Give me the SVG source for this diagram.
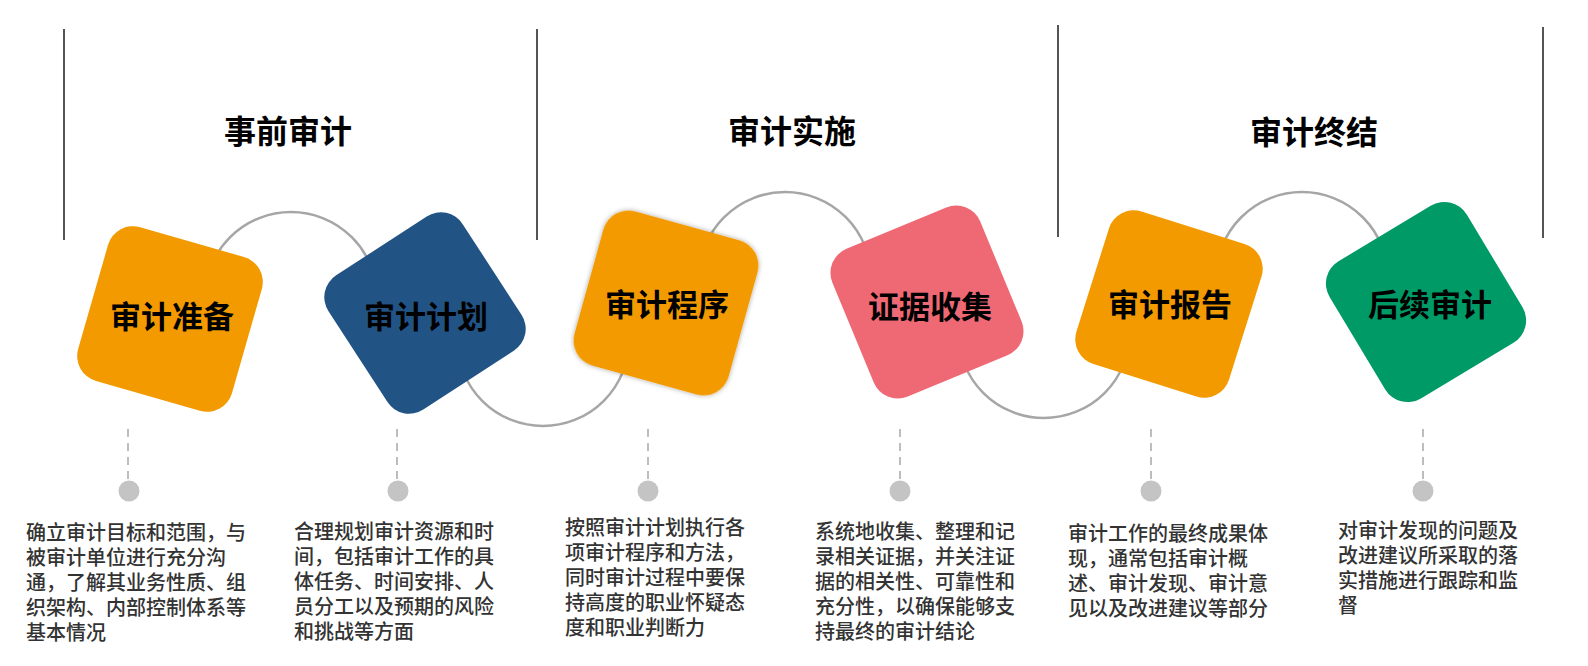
<svg xmlns="http://www.w3.org/2000/svg" width="1588" height="666" viewBox="0 0 1588 666">
<style>
.sec{stroke:#555;stroke-width:2;fill:none}
.hdr{font-family:"Noto Sans CJK SC",sans-serif;font-size:32px;font-weight:700;fill:#000;text-anchor:middle}
.arc{stroke:#a6a6a6;stroke-width:2.5;fill:none}
.lbl{font-family:"Noto Sans CJK SC",sans-serif;font-size:31px;font-weight:700;fill:#000;text-anchor:middle}
.dash{stroke:#bdbdbd;stroke-width:2;stroke-dasharray:8 6;fill:none}
.dot{fill:#c4c4c4}
.desc{font-family:"Noto Sans CJK SC",sans-serif;font-size:20px;font-weight:500;fill:#333}
.orange{fill:#f29a00}
.blue{fill:#225385}
.pink{fill:#ef6975}
.green{fill:#009a66}
</style>
<defs>
<filter id="soft" x="-20%" y="-20%" width="140%" height="140%">
<feDropShadow dx="0" dy="0" stdDeviation="2.5" flood-color="#000" flood-opacity="0.35"/>
</filter>
</defs>
<rect width="1588" height="666" fill="#fff"/>
<g id="sections">
<line class="sec" x1="64" y1="29" x2="64" y2="240"/>
<line class="sec" x1="537" y1="29" x2="537" y2="240"/>
<line class="sec" x1="1058" y1="25" x2="1058" y2="237"/>
<line class="sec" x1="1543" y1="27" x2="1543" y2="238"/>
<text class="hdr" x="288" y="143">事前审计</text>
<text class="hdr" x="792" y="143">审计实施</text>
<text class="hdr" x="1314" y="144">审计终结</text>
</g>
<g id="connectors">
<path class="arc" d="M205 298 A86 86 0 0 1 377 298"/>
<path class="arc" d="M457 340 A86 86 0 0 0 629 340"/>
<path class="arc" d="M699 278 A86 86 0 0 1 871 278"/>
<path class="arc" d="M958 332 A86 86 0 0 0 1130 332"/>
<path class="arc" d="M1216 278 A86 86 0 0 1 1388 278"/>
</g>
<g id="node1">
<rect class="orange" x="-80" y="-80" width="160" height="160" rx="26" transform="translate(170 319) rotate(16)"/>
<text class="lbl" x="172" y="328">审计准备</text>
<line class="dash" x1="128" y1="429" x2="128" y2="479"/>
<circle class="dot" cx="129" cy="491" r="10.5"/>
<text class="desc" x="26" y="540">
<tspan x="26" dy="0">确立审计目标和范围，与</tspan>
<tspan x="26" dy="25">被审计单位进行充分沟</tspan>
<tspan x="26" dy="25">通，了解其业务性质、组</tspan>
<tspan x="26" dy="25">织架构、内部控制体系等</tspan>
<tspan x="26" dy="25">基本情况</tspan>
</text>
</g>
<g id="node2">
<rect class="blue" x="-80" y="-80" width="160" height="160" rx="26" transform="translate(425 313) rotate(-33)"/>
<text class="lbl" x="426" y="328">审计计划</text>
<line class="dash" x1="397" y1="429" x2="397" y2="479"/>
<circle class="dot" cx="398" cy="491" r="10.5"/>
<text class="desc" x="294" y="539">
<tspan x="294" dy="0">合理规划审计资源和时</tspan>
<tspan x="294" dy="25">间，包括审计工作的具</tspan>
<tspan x="294" dy="25">体任务、时间安排、人</tspan>
<tspan x="294" dy="25">员分工以及预期的风险</tspan>
<tspan x="294" dy="25">和挑战等方面</tspan>
</text>
</g>
<g id="node3">
<rect class="orange" x="-80" y="-80" width="160" height="160" rx="26" transform="translate(666 303) rotate(15.5)" filter="url(#soft)"/>
<text class="lbl" x="667" y="316">审计程序</text>
<line class="dash" x1="648" y1="429" x2="648" y2="479"/>
<circle class="dot" cx="648" cy="491" r="10.5"/>
<text class="desc" x="565" y="535">
<tspan x="565" dy="0">按照审计计划执行各</tspan>
<tspan x="565" dy="25">项审计程序和方法，</tspan>
<tspan x="565" dy="25">同时审计过程中要保</tspan>
<tspan x="565" dy="25">持高度的职业怀疑态</tspan>
<tspan x="565" dy="25">度和职业判断力</tspan>
</text>
</g>
<g id="node4">
<rect class="pink" x="-80" y="-80" width="160" height="160" rx="26" transform="translate(927 302) rotate(-22.5)"/>
<text class="lbl" x="930" y="318">证据收集</text>
<line class="dash" x1="900" y1="429" x2="900" y2="479"/>
<circle class="dot" cx="900" cy="491" r="10.5"/>
<text class="desc" x="815" y="539">
<tspan x="815" dy="0">系统地收集、整理和记</tspan>
<tspan x="815" dy="25">录相关证据，并关注证</tspan>
<tspan x="815" dy="25">据的相关性、可靠性和</tspan>
<tspan x="815" dy="25">充分性，以确保能够支</tspan>
<tspan x="815" dy="25">持最终的审计结论</tspan>
</text>
</g>
<g id="node5">
<rect class="orange" x="-80" y="-80" width="160" height="160" rx="26" transform="translate(1169 304) rotate(17.5)"/>
<text class="lbl" x="1170" y="316">审计报告</text>
<line class="dash" x1="1151" y1="429" x2="1151" y2="479"/>
<circle class="dot" cx="1151" cy="491" r="10.5"/>
<text class="desc" x="1068" y="541">
<tspan x="1068" dy="0">审计工作的最终成果体</tspan>
<tspan x="1068" dy="25">现，通常包括审计概</tspan>
<tspan x="1068" dy="25">述、审计发现、审计意</tspan>
<tspan x="1068" dy="25">见以及改进建议等部分</tspan>
</text>
</g>
<g id="node6">
<rect class="green" x="-80" y="-80" width="160" height="160" rx="26" transform="translate(1426 302) rotate(-31)"/>
<text class="lbl" x="1430" y="316">后续审计</text>
<line class="dash" x1="1423" y1="429" x2="1423" y2="479"/>
<circle class="dot" cx="1423" cy="491" r="10.5"/>
<text class="desc" x="1338" y="538">
<tspan x="1338" dy="0">对审计发现的问题及</tspan>
<tspan x="1338" dy="25">改进建议所采取的落</tspan>
<tspan x="1338" dy="25">实措施进行跟踪和监</tspan>
<tspan x="1338" dy="25">督</tspan>
</text>
</g>
</svg>
